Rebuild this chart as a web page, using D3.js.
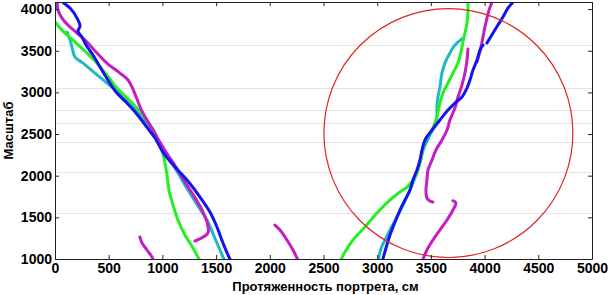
<!DOCTYPE html>
<html><head><meta charset="utf-8">
<script src="https://cdn.jsdelivr.net/npm/d3@7"></script>
<style>
html,body{margin:0;padding:0;background:#fff;}
svg{display:block;}
text{font-family:"Liberation Sans",Arial,sans-serif;font-weight:bold;}
</style></head>
<body><svg id="chart" width="608" height="295"></svg>
<script>
// ---- data (x = Протяженность портрета, см ; y = Масштаб) ----
const xTicks = [0, 500, 1000, 1500, 2000, 2500, 3000, 3500, 4000, 4500, 5000];
const yTicks = [1000, 1500, 2000, 2500, 3000, 3500, 4000];
const gridValues = [3568, 3052, 2788, 2632, 2404, 2044, 1552];
const xLabel = "Протяженность портрета, см";
const yLabel = "Масштаб";

const blueLeft = [[60,4130],[74,4084],[140,4012],[205,3892],[233,3796],[214,3736],[251,3664],[289,3568],[354,3448],[419,3304],[493,3148],[568,3004],[661,2884],[754,2752],[847,2596],[931,2452],[1005,2284],[1117,2104],[1229,1948],[1350,1744],[1443,1564],[1508,1384],[1564,1192],[1629,1000],[1650,964]];
const magentaLeft = [[10,4130],[19,4072],[28,3988],[65,3892],[121,3808],[205,3712],[298,3604],[391,3472],[493,3340],[605,3232],[680,3148],[726,3040],[763,2920],[801,2800],[856,2668],[912,2548],[959,2440],[1033,2284],[1126,2104],[1210,1924],[1294,1756],[1369,1588],[1415,1444],[1424,1312],[1303,1216]];
const magentaSmall1 = [[791,1264],[810,1192],[856,1108],[903,1024],[922,964]];
const magentaSmall2 = [[2048,1408],[2095,1348],[2160,1228],[2216,1108],[2262,988]];
const greenLeft = [[0,3844],[74,3736],[168,3628],[279,3496],[382,3364],[475,3220],[568,3064],[661,2944],[754,2824],[847,2680],[922,2536],[978,2368],[1015,2212],[1043,2008],[1061,1828],[1099,1648],[1145,1468],[1210,1288],[1285,1132],[1341,1000],[1360,964]];
const cyanLeft = [[112,3724],[140,3628],[158,3544],[186,3424],[261,3352],[372,3232],[484,3112],[587,3004],[680,2884],[773,2752],[866,2608],[940,2476],[996,2356],[1061,2212],[1145,2032],[1238,1828],[1331,1636],[1424,1444],[1480,1276],[1536,1108],[1573,1000],[1590,964]];

const greenRight = [[3845,4132],[3845,3988],[3836,3832],[3817,3712],[3798,3604],[3780,3484],[3752,3352],[3705,3232],[3659,3112],[3612,2992],[3584,2872],[3566,2764],[3547,2668],[3510,2548],[3445,2428],[3417,2272],[3398,2152],[3370,2032],[3333,1948],[3277,1864],[3212,1804],[3119,1708],[2998,1552],[2886,1384],[2774,1228],[2700,1084],[2653,964]];
const cyanRight = [[3798,3652],[3724,3568],[3677,3472],[3631,3352],[3603,3232],[3584,3064],[3566,2944],[3556,2824],[3556,2704],[3538,2608],[3491,2488],[3435,2332],[3398,2164],[3361,2008],[3305,1828],[3249,1672],[3184,1504],[3128,1372],[3082,1252],[3045,1156],[3026,1084],[3007,964]];
const blueRightTop = [[4283,4132],[4264,4084],[4217,4012],[4171,3904],[4124,3808],[4078,3712],[4050,3652],[4022,3592]];
const blueRight = [[3985,3568],[3957,3508],[3929,3388],[3892,3268],[3864,3148],[3836,3052],[3789,2944],[3724,2872],[3659,2788],[3584,2668],[3510,2548],[3445,2428],[3417,2308],[3398,2188],[3370,2068],[3333,1948],[3305,1828],[3259,1708],[3212,1588],[3166,1444],[3119,1288],[3082,1132],[3045,964]];
const magentaRightTop = [[4078,4132],[4069,4084],[4041,3988],[4022,3892],[4003,3784],[3985,3664],[3966,3544],[3947,3448],[3929,3364]];
const magentaRightMid = [[3845,3520],[3836,3388],[3817,3232],[3789,3088],[3752,2944],[3724,2812],[3677,2668],[3650,2548],[3603,2428],[3547,2308],[3510,2188],[3473,2068],[3463,1948],[3454,1828],[3463,1732],[3491,1696],[3519,1684]];
const magentaRightLow = [[3705,1700],[3733,1672],[3705,1588],[3650,1468],[3584,1348],[3519,1228],[3463,1108],[3417,964]];

const circleCenter = [3663, 2512];
const circleRadius = [1159, 1494]; // in x units, y units

// ---- layout ----
const svg = d3.select("#chart");
const L = 55, R = 592, T = 2, B = 259;
const x = d3.scaleLinear().domain([0, 5000]).range([L, R]);
const y = d3.scaleLinear().domain([1000, 4085]).range([B, T]);

svg.append("defs").append("clipPath").attr("id","clip")
  .append("rect").attr("x",L).attr("y",T).attr("width",R-L).attr("height",B-T);

// faint grid lines
svg.append("g").selectAll("line").data(gridValues).join("line")
  .attr("x1",L).attr("x2",R).attr("y1",d=>Math.round(y(d))+0.5).attr("y2",d=>Math.round(y(d))+0.5)
  .attr("stroke","#e4e4e4").attr("stroke-width",1);

const line = d3.line().x(d=>x(d[0])).y(d=>y(d[1])).curve(d3.curveCatmullRom.alpha(0.5));
const plot = svg.append("g").attr("clip-path","url(#clip)");

const series = [
  [magentaSmall1, "#c21ec2"],
  [magentaSmall2, "#c21ec2"],
  [cyanLeft, "#1fb8c4"],
  [greenLeft, "#22f022"],
  [magentaLeft, "#c21ec2"],
  [blueLeft, "#1414ee"],
  [cyanRight, "#1fb8c4"],
  [greenRight, "#22f022"],
  [magentaRightTop, "#c21ec2"],
  [magentaRightMid, "#c21ec2"],
  [magentaRightLow, "#c21ec2"],
  [blueRightTop, "#1414ee"],
  [blueRight, "#1414ee"]
];
plot.selectAll("path.s").data(series).join("path").attr("class","s")
  .attr("d",d=>line(d[0])).attr("fill","none").attr("stroke",d=>d[1])
  .attr("stroke-width",3).attr("stroke-linecap","round").attr("stroke-linejoin","round");

// red circle
plot.append("ellipse")
  .attr("cx", x(circleCenter[0])).attr("cy", y(circleCenter[1]))
  .attr("rx", x(circleCenter[0]+circleRadius[0]) - x(circleCenter[0]))
  .attr("ry", y(circleCenter[1]) - y(circleCenter[1]+circleRadius[1]))
  .attr("fill","none").attr("stroke","#e02424").attr("stroke-width",1.2);

// axes
const fmt = d3.format("d");
const ax = svg.append("g").attr("transform",`translate(0,${B})`)
  .call(d3.axisBottom(x).tickValues(xTicks).tickFormat(fmt).tickSizeInner(-4).tickSizeOuter(0).tickPadding(4));
const axT = svg.append("g").attr("transform",`translate(0,${T})`)
  .call(d3.axisTop(x).tickValues(xTicks).tickFormat("").tickSizeInner(-4).tickSizeOuter(0));
const ay = svg.append("g").attr("transform",`translate(${L},0)`)
  .call(d3.axisLeft(y).tickValues(yTicks).tickFormat(fmt).tickSizeInner(-4).tickSizeOuter(0).tickPadding(3));
const ayR = svg.append("g").attr("transform",`translate(${R},0)`)
  .call(d3.axisRight(y).tickValues(yTicks).tickFormat("").tickSizeInner(-4).tickSizeOuter(0));
[ax,axT,ay,ayR].forEach(g=>{
  g.selectAll(".domain").attr("stroke","#222");
  g.selectAll(".tick line").attr("stroke","#222");
  g.selectAll("text").attr("font-size",14).attr("font-weight","bold")
    .attr("font-family","'Liberation Sans',Arial,sans-serif").attr("fill","#000");
});

svg.append("text").attr("x",(L+R)/2 + 2).attr("y",291).attr("text-anchor","middle")
  .attr("font-size",13).text(xLabel);
svg.append("text").attr("transform",`translate(13,${(T+B)/2}) rotate(-90)`).attr("text-anchor","middle")
  .attr("font-size",13).text(yLabel);
</script></body></html>
